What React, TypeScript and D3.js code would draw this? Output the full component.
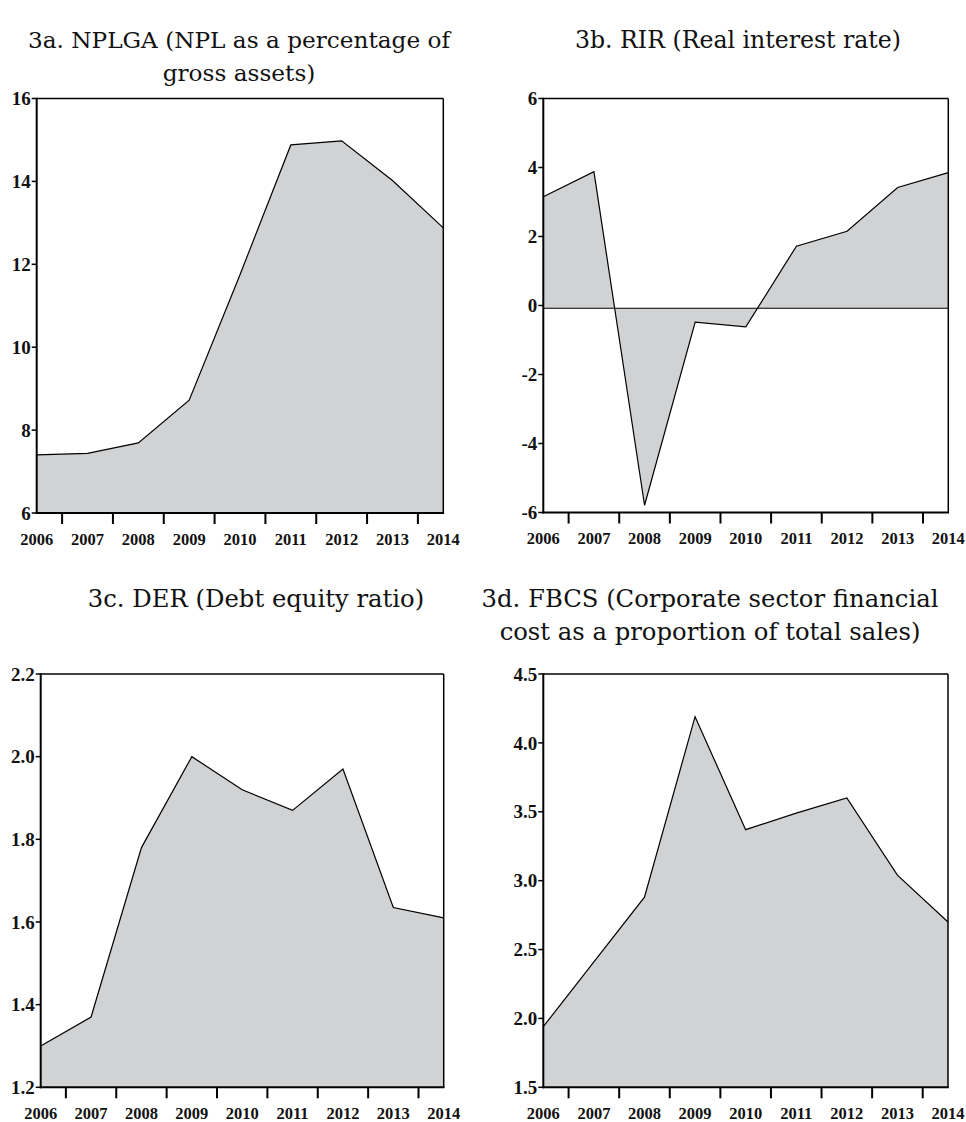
import React from 'react';
import * as d3 from 'd3';

// years shared by all four panels
const years = ['2006', '2007', '2008', '2009', '2010', '2011', '2012', '2013', '2014'];

// 3a. NPL as a percentage of gross assets
const nplga = [7.4, 7.44, 7.69, 8.72, 11.75, 14.88, 14.98, 14.02, 12.88];
const nplgaTicks = [6, 8, 10, 12, 14, 16];

// 3b. Real interest rate
const rir = [3.15, 3.88, -5.79, -0.48, -0.62, 1.72, 2.15, 3.42, 3.85];
const rirTicks = [-6, -4, -2, 0, 2, 4, 6];
const rirBase = -0.08;

// 3c. Debt equity ratio
const der = [1.3, 1.37, 1.78, 2.0, 1.92, 1.87, 1.97, 1.635, 1.61];
const derTicks = [1.2, 1.4, 1.6, 1.8, 2.0, 2.2];

// 3d. Financial cost as a proportion of total sales
const fbcs = [1.94, 2.41, 2.88, 4.19, 3.37, 3.49, 3.6, 3.04, 2.7];
const fbcsTicks = [1.5, 2.0, 2.5, 3.0, 3.5, 4.0, 4.5];

// plain hyphen for negatives, like the original
const loc = d3.formatLocale({ decimal: '.', thousands: ',', grouping: [3], currency: ['', ''], minus: '-' });

const panels = [
  {
    key: 'a', values: nplga, ticks: nplgaTicks, fmt: loc.format('d'), base: 6,
    title: ['3a. NPLGA (NPL as a percentage of', 'gross assets)'], tx: 239, ty: 48, tsize: 23.2,
    box: { x0: 36.7, x1: 443.3, y0: 98.5, y1: 513 },
  },
  {
    key: 'b', values: rir, ticks: rirTicks, fmt: loc.format('d'), base: rirBase, zeroLine: true,
    title: ['3b. RIR (Real interest rate)'], tx: 738, ty: 48, tsize: 23.6,
    box: { x0: 543.3, x1: 948.3, y0: 98.5, y1: 512.5 },
  },
  {
    key: 'c', values: der, ticks: derTicks, fmt: loc.format('.1f'), base: 1.2,
    title: ['3c. DER (Debt equity ratio)'], tx: 256, ty: 607, tsize: 24.3,
    box: { x0: 40.7, x1: 443.7, y0: 674, y1: 1087.3 },
  },
  {
    key: 'd', values: fbcs, ticks: fbcsTicks, fmt: loc.format('.1f'), base: 1.5,
    title: ['3d. FBCS (Corporate sector financial', 'cost as a proportion of total sales)'], tx: 710, ty: 607, tsize: 24.3,
    box: { x0: 543.3, x1: 948, y0: 674, y1: 1087.3 },
  },
];

const serif = '"Liberation Serif", "Times New Roman", serif';
const titleFont = '"DejaVu Serif", serif';

function Panel({ p }: { p: any }) {
  const { x0, x1, y0, y1 } = p.box;
  const ticks: number[] = p.ticks;
  const x = d3.scalePoint<string>().domain(years).range([x0, x1]);
  const y = d3.scaleLinear().domain([ticks[0], ticks[ticks.length - 1]]).range([y1, y0]);
  const step = x.step();

  const data = years.map((yr, i) => ({ yr, v: p.values[i] }));
  const area = d3.area<any>().x(d => x(d.yr)!).y0(y(p.base)).y1(d => y(d.v));
  const line = d3.line<any>().x(d => x(d.yr)!).y(d => y(d.v));

  return (
    <g>
      {p.title.map((t: string, i: number) => (
        <text key={i} x={p.tx} y={p.ty + i * 33} textAnchor="middle"
          style={{ fontFamily: titleFont, fontSize: p.tsize, fill: '#111' }}>{t}</text>
      ))}
      <path d={area(data)!} fill="#d1d2d4" stroke="none" />
      <path d={line(data)!} fill="none" stroke="#000" strokeWidth={1.2} />
      {p.zeroLine && (
        <line x1={x0} x2={x1} y1={y(p.base)} y2={y(p.base)} stroke="#000" strokeWidth={1.2} />
      )}
      {/* frame */}
      <line x1={x0} x2={x1} y1={y0} y2={y0} stroke="#000" strokeWidth={1.5} />
      <line x1={x1} x2={x1} y1={y0} y2={y1} stroke="#000" strokeWidth={1.5} />
      <line x1={x0} x2={x0} y1={y0 - 0.75} y2={y1 + 1} stroke="#000" strokeWidth={2} />
      <line x1={x0 - 1} x2={x1 + 0.75} y1={y1} y2={y1} stroke="#000" strokeWidth={2} />
      {/* y ticks */}
      {ticks.map(t => (
        <g key={t}>
          <line x1={x0 - 5} x2={x0} y1={y(t)} y2={y(t)} stroke="#000" strokeWidth={1.5} />
          <text x={x0 - 6} y={y(t)} dy="0.35em" textAnchor="end"
            style={{ fontFamily: serif, fontSize: 19, fontWeight: 'bold', fill: '#111' }}>{p.fmt(t)}</text>
        </g>
      ))}
      {/* x ticks between years, labels on years */}
      {years.slice(0, -1).map(yr => (
        <line key={yr} x1={x(yr)! + step / 2} x2={x(yr)! + step / 2} y1={y1} y2={y1 + 11}
          stroke="#000" strokeWidth={2} />
      ))}
      {years.map(yr => (
        <text key={yr} x={x(yr)} y={y1 + 31.5} textAnchor="middle"
          style={{ fontFamily: serif, fontSize: 16.5, fontWeight: 'bold', fill: '#111' }}>{yr}</text>
      ))}
    </g>
  );
}

export default function App() {
  return (
    <svg width={966} height={1122} style={{ position: 'absolute', left: 0, top: 0, background: '#fff' }}>
      {panels.map(p => <Panel key={p.key} p={p} />)}
    </svg>
  );
}
